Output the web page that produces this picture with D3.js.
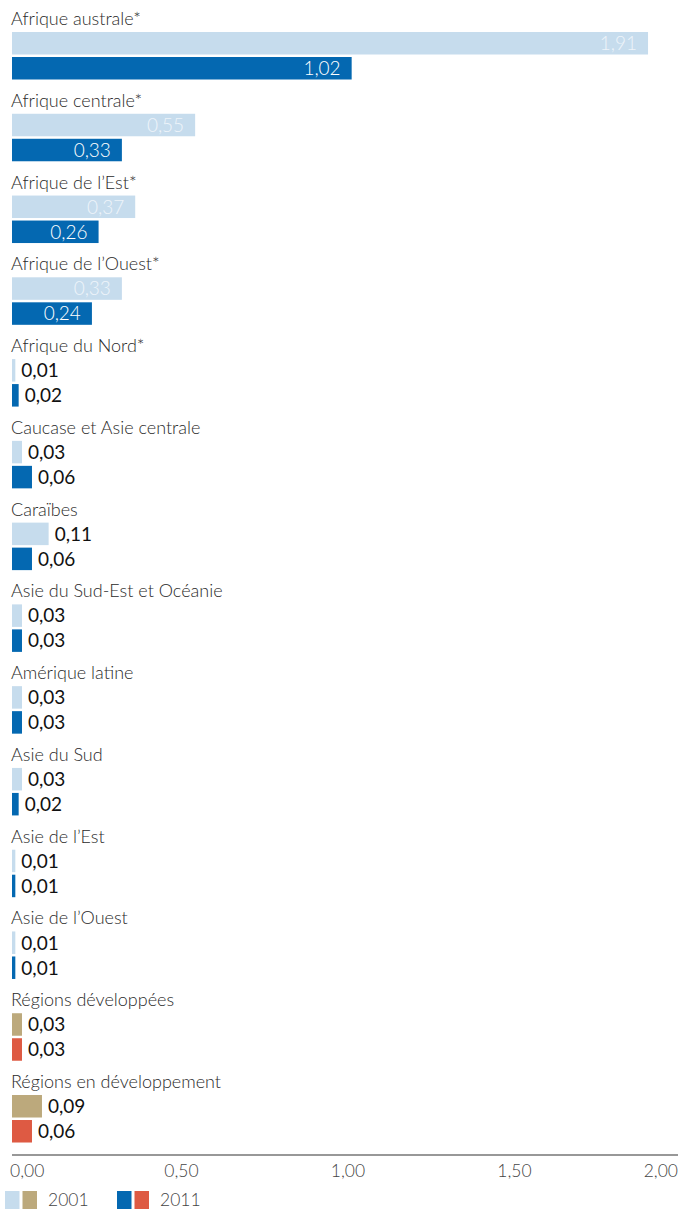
<!DOCTYPE html>
<html>
<head>
<meta charset="utf-8">
<script src="https://cdn.jsdelivr.net/npm/d3@7"></script>
<style>
  html, body { margin: 0; padding: 0; background: #fff; }
  svg { display: block; font-family: Lato, "Noto Sans", sans-serif; }
</style>
</head>
<body>
<svg id="chart" width="680" height="1209"></svg>
<script>
// Regions, in display order
const regions = [
  "Afrique australe*",
  "Afrique centrale*",
  "Afrique de l\u2019Est*",
  "Afrique de l\u2019Ouest*",
  "Afrique du Nord*",
  "Caucase et Asie centrale",
  "Cara\u00efbes",
  "Asie du Sud-Est et Oc\u00e9anie",
  "Am\u00e9rique latine",
  "Asie du Sud",
  "Asie de l\u2019Est",
  "Asie de l\u2019Ouest",
  "R\u00e9gions d\u00e9velopp\u00e9es",
  "R\u00e9gions en d\u00e9veloppement"
];
// Aggregate rows drawn in the alternate palette
const aggregates = ["R\u00e9gions d\u00e9velopp\u00e9es", "R\u00e9gions en d\u00e9veloppement"];

const values2001 = [1.91, 0.55, 0.37, 0.33, 0.01, 0.03, 0.11, 0.03, 0.03, 0.03, 0.01, 0.01, 0.03, 0.09];
const values2011 = [1.02, 0.33, 0.26, 0.24, 0.02, 0.06, 0.06, 0.03, 0.03, 0.02, 0.01, 0.01, 0.03, 0.06];

const years = ["2001", "2011"];
const xTicks = [0, 0.5, 1, 1.5, 2];

const colors = {
  region: { "2001": "#c6dced", "2011": "#0468b1" },
  aggregate: { "2001": "#bca97c", "2011": "#de5a43" }
};

const svg = d3.select("#chart");
const fmt = v => d3.format(".2f")(v).replace(".", ",");

const x = d3.scaleLinear().domain([0, 2]).range([12, 678]);

// Each group: title line followed by two bars
const groupStep = 81.77;
const firstBarTop = 32;
const y = d3.scaleBand()
  .domain(regions)
  .range([firstBarTop, firstBarTop + groupStep * regions.length])
  .paddingInner(0);

const yInner = d3.scaleBand().domain(years).range([0, 47.5]).paddingInner(0.1);

const rows = regions.map((r, i) => ({
  region: r,
  kind: aggregates.includes(r) ? "aggregate" : "region",
  bars: [
    { year: "2001", value: values2001[i] },
    { year: "2011", value: values2011[i] }
  ]
}));

const g = svg.selectAll("g.row").data(rows).join("g")
  .attr("class", "row")
  .attr("transform", d => `translate(0,${y(d.region)})`);

g.append("text")
  .attr("x", 11)
  .attr("y", -7)
  .attr("fill", "#2a2a2a")
  .attr("font-size", 18)
  .attr("font-weight", 300)
  .text(d => d.region);

const bars = g.selectAll("g.bar").data(d => d.bars.map(b => ({ ...b, kind: d.kind }))).join("g")
  .attr("class", "bar")
  .attr("transform", d => `translate(0,${yInner(d.year)})`);

bars.append("rect")
  .attr("x", x(0))
  .attr("y", 0)
  .attr("width", d => x(d.value) - x(0))
  .attr("height", yInner.bandwidth())
  .attr("fill", d => colors[d.kind][d.year]);

const insideMin = 0.2;
bars.append("text")
  .attr("x", d => d.value >= insideMin ? x(d.value) - 11 : x(d.value) + 6)
  .attr("y", yInner.bandwidth() / 2)
  .attr("dy", "0.36em")
  .attr("text-anchor", d => d.value >= insideMin ? "end" : "start")
  .attr("font-size", 19)
  .attr("fill", d => d.value >= insideMin ? (d.year === "2001" ? "#eef4fa" : "#ffffff") : "#111")
  .attr("font-weight", d => d.value >= insideMin ? 300 : 400)
  .text(d => fmt(d.value));

// Axis
const axisY = 1155;
svg.append("line")
  .attr("x1", x(0)).attr("x2", x(2))
  .attr("y1", axisY).attr("y2", axisY)
  .attr("stroke", "#333").attr("stroke-width", 1.2);

svg.selectAll("text.tick").data(xTicks).join("text")
  .attr("class", "tick")
  .attr("x", (d, i) => i === 0 ? x(d) - 2 : (i === xTicks.length - 1 ? x(d) : x(d) + 3))
  .attr("y", 1177)
  .attr("text-anchor", (d, i) => i === 0 ? "start" : (i === xTicks.length - 1 ? "end" : "middle"))
  .attr("font-size", 17.5)
  .attr("font-weight", 300)
  .attr("fill", "#444")
  .text(d => fmt(d));

// Legend
const legend = svg.append("g").attr("transform", "translate(0,1191)");
const legendItems = [
  { year: "2001", x: 5 },
  { year: "2011", x: 117 }
];
const li = legend.selectAll("g").data(legendItems).join("g")
  .attr("transform", d => `translate(${d.x},0)`);
li.append("rect").attr("x", 0).attr("width", 14.5).attr("height", 20)
  .attr("fill", d => colors.region[d.year]);
li.append("rect").attr("x", 17.5).attr("width", 14.5).attr("height", 20)
  .attr("fill", d => colors.aggregate[d.year]);
li.append("text").attr("x", 43).attr("y", 14.5)
  .attr("font-size", 17.5).attr("font-weight", 300).attr("fill", "#444")
  .text(d => d.year);
</script>
</body>
</html>
